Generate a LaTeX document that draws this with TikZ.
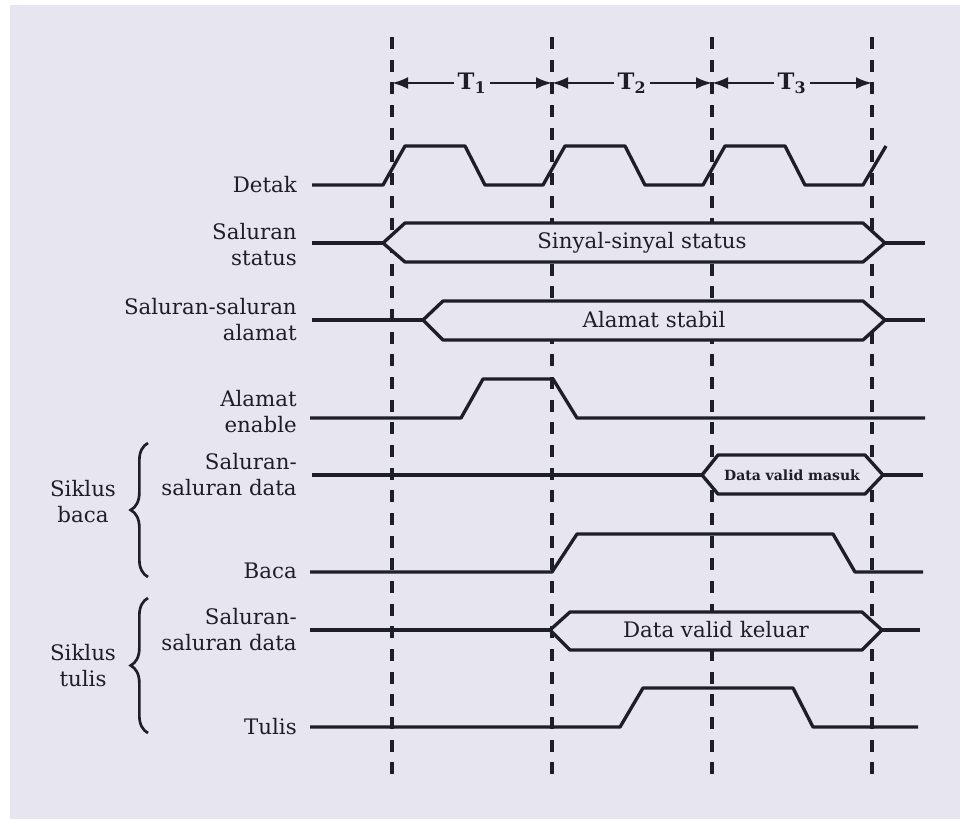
\documentclass[tikz,border=0pt]{standalone}
\usepackage{fontspec}
\setmainfont{DejaVu Serif}
\usepackage{xcolor}
\definecolor{paper}{HTML}{E6E5F0}
\definecolor{ink}{HTML}{1E1E26}
\usepackage{tikz}
\usetikzlibrary{arrows.meta, decorations.pathreplacing}

\begin{document}
\begin{tikzpicture}[
  x=0.75pt, y=-0.75pt,
  font=\fontsize{16}{19.5}\selectfont,
  every node/.style={text=ink},
  signal/.style={draw=ink, line width=2.5pt, line join=round},
  bus/.style={signal, fill=paper},
  guide/.style={draw=ink, line width=2.3pt, dash pattern=on 9pt off 8pt},
  span/.style={draw=ink, line width=1.8pt,
    {Latex[length=12pt,width=9pt]}-{Latex[length=12pt,width=9pt]}},
  period/.style={fill=paper, inner sep=3pt,
    font=\fontsize{17}{20}\selectfont\bfseries},
  lbl/.style={anchor=east, align=right, inner sep=0pt},
  grp/.style={align=center, inner sep=0pt},
  brc/.style={draw=ink, line width=2pt, decorate,
    decoration={brace, amplitude=13pt}},
]
  \useasboundingbox (0,0) rectangle (960,819);
  \fill[paper] (10,5) rectangle (960,819);

  % clock periods
  \foreach \d/\n in {392/a, 552/b, 712/c, 872/d} {
    \coordinate (top\n) at (\d,37);
    \coordinate (bot\n) at (\d,777);
    \coordinate (mark\n) at (\d,83);
    \draw[guide] (top\n) -- (bot\n);
  }
  \draw[span] (marka) -- node[period] (t1) {T\textsubscript{1}} (markb);
  \draw[span] (markb) -- node[period] (t2) {T\textsubscript{2}} (markc);
  \draw[span] (markc) -- node[period] (t3) {T\textsubscript{3}} (markd);

  % signal names
  \node[lbl] (detak) at (297,185) {Detak};
  \node[lbl] (status) at (297,245) {Saluran\\status};
  \node[lbl] (alamat) at (297,320) {Saluran-saluran\\alamat};
  \node[lbl] (enable) at (297,412) {Alamat\\enable};
  \node[lbl] (databaca) at (297,475) {Saluran-\\saluran data};
  \node[lbl] (baca) at (297,571) {Baca};
  \node[lbl] (datatulis) at (297,630) {Saluran-\\saluran data};
  \node[lbl] (tulis) at (297,727) {Tulis};

  \node[grp] (siklusbaca) at (83,502) {Siklus\\baca};
  \node[grp] (siklustulis) at (83,666) {Siklus\\tulis};
  \draw[brc] (148,577) -- (148,443);
  \draw[brc] (148,733) -- (148,598);

  % waveforms
  \draw[signal] (312,185)
    foreach \d in {392,552,712} {
      -- (\d-9,185) -- (\d+13,146) -- (\d+73,146) -- (\d+93,185)
    } -- (863,185) -- (886,146);

  \draw[signal] (312,243) -- (383,243);
  \draw[bus] (383,243) -- (405,223) -- (863,223) -- (885,243)
    -- (863,262) -- (405,262) -- cycle;
  \draw[signal] (885,243) -- (925,243);
  \node (sinyal) at (642,243) {Sinyal-sinyal status};

  \draw[signal] (312,320) -- (423,320);
  \draw[bus] (423,320) -- (443,301) -- (863,301) -- (885,320)
    -- (863,340) -- (443,340) -- cycle;
  \draw[signal] (885,320) -- (925,320);
  \node (stabil) at (654,320) {Alamat stabil};

  \draw[signal] (310,418) -- (461,418) -- (483,379) -- (553,379)
    -- (577,418) -- (925,418);

  \draw[signal] (312,475) -- (702,475);
  \draw[bus] (702,475) -- (718,455) -- (865,455) -- (883,475)
    -- (865,494) -- (718,494) -- cycle;
  \draw[signal] (883,475) -- (923,475);
  \node[font=\fontsize{10.5}{12}\selectfont\bfseries] (masuk) at (792,475)
    {Data valid masuk};

  \draw[signal] (310,572) -- (552,572) -- (577,534) -- (833,534)
    -- (855,572) -- (923,572);

  \draw[signal] (310,630) -- (550,630);
  \draw[bus] (550,630) -- (570,612) -- (862,612) -- (882,630)
    -- (862,650) -- (570,650) -- cycle;
  \draw[signal] (882,630) -- (920,630);
  \node (keluar) at (716,630) {Data valid keluar};

  \draw[signal] (310,727) -- (620,727) -- (643,688) -- (793,688)
    -- (813,727) -- (918,727);
\end{tikzpicture}
\end{document}
